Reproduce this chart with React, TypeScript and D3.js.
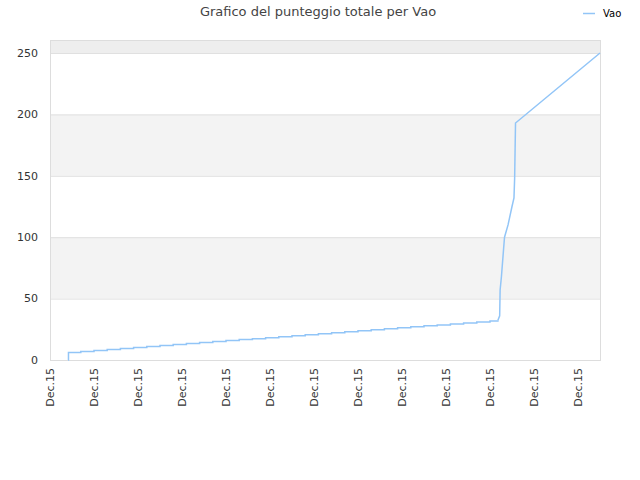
import { useEffect, useRef } from "react";
import * as d3 from "d3";

// x positions are in tick units (one unit per "Dec.15" tick)
const tickLabels = [
  "Dec.15", "Dec.15", "Dec.15", "Dec.15", "Dec.15", "Dec.15", "Dec.15",
  "Dec.15", "Dec.15", "Dec.15", "Dec.15", "Dec.15", "Dec.15",
];

// slow, stair-stepped part of the series
const slowX = [
  0.41, 0.42, 0.7, 1.0, 1.3, 1.6, 1.9, 2.2, 2.5, 2.8, 3.1, 3.4, 3.7, 4.0, 4.3,
  4.6, 4.9, 5.2, 5.5, 5.8, 6.1, 6.4, 6.7, 7.0, 7.3, 7.6, 7.9, 8.2, 8.5, 8.8,
  9.1, 9.4, 9.7, 10.0, 10.18,
];
const slowY = [
  0, 6.2, 7.0, 7.8, 8.6, 9.4, 10.2, 11.0, 11.8, 12.6, 13.4, 14.2, 15.0, 15.8,
  16.6, 17.4, 18.2, 19.0, 19.8, 20.6, 21.4, 22.2, 23.0, 23.8, 24.6, 25.4, 26.2,
  27.0, 27.8, 28.6, 29.4, 30.2, 31.0, 31.8, 32.4,
];

// steep climb and final stretch
const fastX = [10.18, 10.22, 10.23, 10.26, 10.31, 10.33, 10.41, 10.5, 10.545, 10.56, 10.58, 12.5];
const fastY = [32.4, 36, 57, 68, 91, 100, 110, 125, 132, 148, 193, 250];

const yTicks = [0, 50, 100, 150, 200, 250];
const seriesName = "Vao";
const title = "Grafico del punteggio totale per Vao";

export default function App() {
  const ref = useRef<SVGSVGElement>(null);
  const width = 640;
  const height = 480;

  useEffect(() => {
    if (!ref.current) return;
    const svg = d3.select(ref.current);
    svg.selectAll("*").remove();

    const left = 50, right = 600, top = 40, bottom = 360;
    const x = d3.scaleLinear().domain([0, 12.5]).range([left, right]);
    const y = d3.scaleLinear().domain([0, 260.6]).range([bottom, top]);
    const font = "DejaVu Sans, sans-serif";

    // bands
    const bands: [number, number, string][] = [
      [50, 100, "#f3f3f3"],
      [150, 200, "#f3f3f3"],
      [250, 260.6, "#eeeeee"],
    ];
    svg
      .selectAll("rect.band")
      .data(bands)
      .enter()
      .append("rect")
      .attr("x", left)
      .attr("width", right - left)
      .attr("y", (d) => y(d[1]))
      .attr("height", (d) => y(d[0]) - y(d[1]))
      .attr("fill", (d) => d[2]);

    // grid lines
    svg
      .selectAll("line.grid")
      .data(yTicks.slice(1))
      .enter()
      .append("line")
      .attr("x1", left)
      .attr("x2", right)
      .attr("y1", (d) => y(d) + 0.5)
      .attr("y2", (d) => y(d) + 0.5)
      .attr("stroke", "#e0e0e0")
      .attr("stroke-width", 1);

    // frame
    svg
      .append("rect")
      .attr("x", left + 0.5)
      .attr("y", top + 0.5)
      .attr("width", right - left)
      .attr("height", bottom - top)
      .attr("fill", "none")
      .attr("stroke", "#dddddd");

    // y labels
    svg
      .selectAll("text.ytick")
      .data(yTicks)
      .enter()
      .append("text")
      .attr("x", 38)
      .attr("y", (d) => y(d))
      .attr("dy", "0.35em")
      .attr("text-anchor", "end")
      .attr("font-family", font)
      .attr("font-size", 11)
      .attr("fill", "#333")
      .text((d) => d);

    // x labels
    svg
      .selectAll("text.xtick")
      .data(tickLabels)
      .enter()
      .append("text")
      .attr("transform", (_, i) => `translate(${x(i)},368) rotate(-90)`)
      .attr("dy", "0.35em")
      .attr("text-anchor", "end")
      .attr("font-family", font)
      .attr("font-size", 11)
      .attr("fill", "#333")
      .text((d) => d);

    const color = "#92c5f7";
    const slow = slowX.map((v, i) => [x(v), y(slowY[i])] as [number, number]);
    const fast = fastX.map((v, i) => [x(v), y(fastY[i])] as [number, number]);

    svg
      .append("path")
      .attr("d", d3.line().curve(d3.curveStepAfter)(slow))
      .attr("fill", "none")
      .attr("stroke", color)
      .attr("stroke-width", 1.5);
    svg
      .append("path")
      .attr("d", d3.line()(fast))
      .attr("fill", "none")
      .attr("stroke", color)
      .attr("stroke-width", 1.5);

    // title
    svg
      .append("text")
      .attr("x", 318)
      .attr("y", 16)
      .attr("text-anchor", "middle")
      .attr("font-family", font)
      .attr("font-size", 13)
      .attr("fill", "#444")
      .text(title);

    // legend
    svg
      .append("line")
      .attr("x1", 583)
      .attr("x2", 595)
      .attr("y1", 13.5)
      .attr("y2", 13.5)
      .attr("stroke", color)
      .attr("stroke-width", 1.5);
    svg
      .append("text")
      .attr("x", 603)
      .attr("y", 13)
      .attr("dy", "0.35em")
      .attr("font-family", font)
      .attr("font-size", 10)
      .attr("fill", "#000")
      .text(seriesName);
  }, []);

  return (
    <svg
      ref={ref}
      width={width}
      height={height}
      style={{ position: "absolute", left: 0, top: 0, background: "#fff" }}
    />
  );
}
